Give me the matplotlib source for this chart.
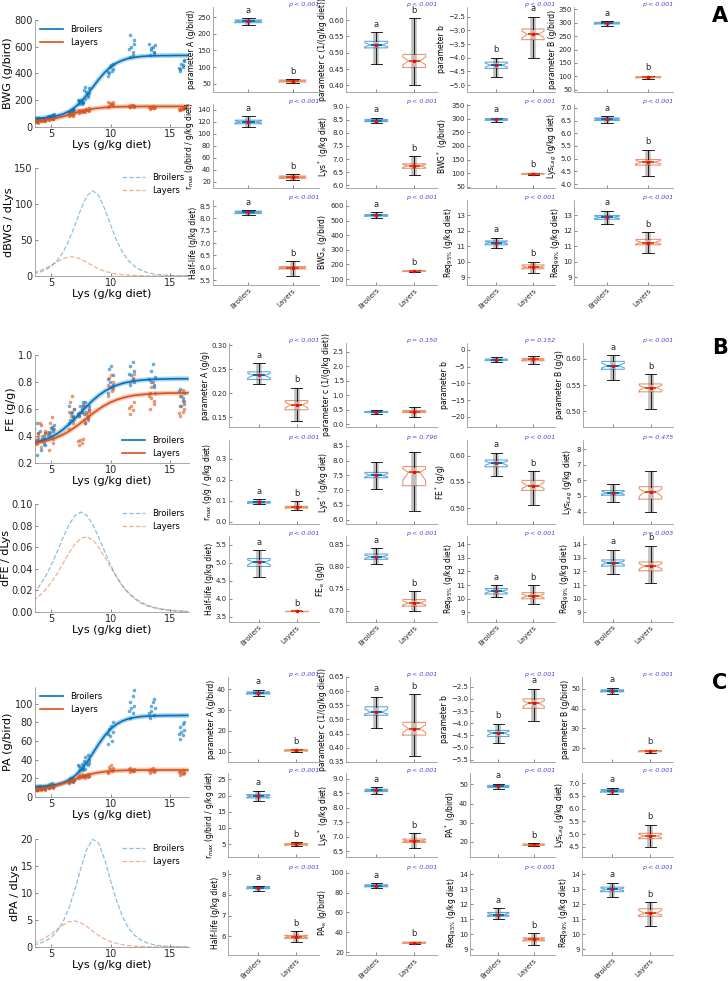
import matplotlib.pyplot as plt
import numpy as np

W, H = 728, 981
blue = '#0072BD'
orange = '#D95319'

# Lys levels of the diets and a fixed horizontal spread for the points
lys_levels = [3.7, 4.3, 5.0, 6.7, 7.5, 8.0, 10.0, 11.8, 13.5, 16.0]
jitter = [-0.2, 0.12, -0.06, 0.2, -0.14, 0.06, 0.16, -0.24]

bwg_pts_broilers = [[48, 55, 62, 70, 58, 45, 66, 52], [52, 60, 57, 66, 50, 63, 55, 59],
                    [75, 88, 82, 95, 79, 91, 70, 85], [112, 125, 118, 130, 108, 122, 135, 115],
                    [175, 190, 200, 182, 195, 170, 188, 205], [210, 240, 265, 290, 300, 225, 255, 280],
                    [385, 420, 445, 470, 400, 460, 430, 410], [520, 560, 600, 650, 690, 540, 620, 580],
                    [540, 560, 590, 610, 575, 600, 550, 620], [420, 445, 470, 490, 430, 460, 500, 440]]
bwg_pts_layers = [[32, 38, 42, 45, 35, 40, 30, 44], [45, 50, 53, 48, 55, 47, 52, 58],
                  [55, 62, 68, 72, 58, 65, 60, 70], [82, 90, 98, 105, 88, 95, 85, 100],
                  [105, 115, 125, 130, 110, 120, 118, 128], [115, 125, 135, 120, 130, 128, 140, 122],
                  [150, 165, 180, 190, 160, 175, 170, 185], [148, 155, 162, 158, 150, 165, 152, 160],
                  [138, 145, 152, 148, 142, 155, 140, 150], [125, 132, 140, 145, 130, 138, 148, 135]]
fe_pts_broilers = [[0.23, 0.26, 0.35, 0.42, 0.45, 0.50, 0.38, 0.30], [0.30, 0.34, 0.38, 0.42, 0.36, 0.40, 0.33, 0.44],
                   [0.42, 0.44, 0.46, 0.48, 0.43, 0.47, 0.45, 0.41], [0.50, 0.54, 0.57, 0.60, 0.52, 0.58, 0.55, 0.62],
                   [0.55, 0.58, 0.62, 0.65, 0.57, 0.60, 0.63, 0.56], [0.50, 0.54, 0.58, 0.62, 0.65, 0.52, 0.60, 0.56],
                   [0.72, 0.76, 0.80, 0.85, 0.90, 0.92, 0.78, 0.82], [0.78, 0.82, 0.85, 0.88, 0.92, 0.95, 0.80, 0.86],
                   [0.72, 0.76, 0.80, 0.84, 0.88, 0.93, 0.78, 0.82], [0.62, 0.66, 0.70, 0.72, 0.75, 0.68, 0.64, 0.73]]
fe_pts_layers = [[0.30, 0.34, 0.38, 0.42, 0.46, 0.36, 0.40, 0.33], [0.32, 0.36, 0.40, 0.44, 0.48, 0.38, 0.42, 0.50],
                 [0.30, 0.35, 0.40, 0.45, 0.50, 0.54, 0.38, 0.43], [0.45, 0.50, 0.55, 0.60, 0.65, 0.70, 0.52, 0.58],
                 [0.33, 0.35, 0.37, 0.38, 0.55, 0.58, 0.62, 0.36], [0.50, 0.53, 0.56, 0.59, 0.62, 0.55, 0.58, 0.52],
                 [0.70, 0.73, 0.76, 0.80, 0.83, 0.85, 0.75, 0.78], [0.56, 0.59, 0.62, 0.65, 0.80, 0.83, 0.86, 0.61],
                 [0.60, 0.64, 0.68, 0.72, 0.76, 0.80, 0.66, 0.70], [0.55, 0.58, 0.62, 0.66, 0.70, 0.74, 0.60, 0.57]]
pa_pts_broilers = [[5, 8, 10, 12, 14, 9, 11, 7], [9, 10, 11, 12, 10, 11, 9, 12],
                   [10, 11, 12, 13, 14, 15, 12, 11], [15, 16, 17, 18, 19, 20, 17, 18],
                   [28, 30, 31, 32, 33, 35, 29, 34], [30, 34, 37, 40, 43, 45, 36, 39],
                   [57, 60, 65, 70, 73, 76, 80, 68], [85, 90, 95, 98, 102, 108, 115, 92],
                   [85, 88, 92, 95, 98, 102, 105, 90], [62, 66, 70, 72, 75, 78, 80, 68]]
pa_pts_layers = [[6, 7, 8, 9, 10, 7, 8, 9], [8, 9, 10, 11, 9, 10, 8, 11],
                 [10, 11, 12, 13, 11, 12, 10, 13], [16, 17, 18, 19, 20, 17, 18, 16],
                 [20, 21, 22, 23, 24, 25, 22, 21], [20, 21, 22, 23, 24, 25, 23, 22],
                 [26, 28, 30, 31, 32, 34, 29, 27], [27, 28, 29, 30, 31, 29, 28, 30],
                 [26, 27, 28, 29, 30, 31, 28, 29], [24, 25, 26, 27, 28, 29, 26, 27]]

# fitted curves and their derivatives, read at Lys = 3.5, 4.0, ... 16.5
lys_grid = np.arange(3.5, 16.75, 0.5)
bwg_fit_broilers = [64, 66, 70, 75, 84, 97, 118, 148, 189, 240, 298, 356, 408, 449, 479, 499, 513, 521,
                    527, 530, 532, 533, 534, 534, 535, 535, 535]
bwg_fit_layers = [45, 48, 53, 59, 68, 79, 92, 105, 118, 128, 136, 142, 146, 149, 151, 152, 153, 153,
                  153.5, 153.7, 153.8, 153.9, 154, 154, 154, 154, 154]
bwg_der_broilers = [3.2, 5.2, 8.4, 13.5, 21.4, 33.2, 49.8, 70.7, 93.2, 111.4, 118.5, 111.4, 93.2, 70.7,
                    49.8, 33.2, 21.4, 13.5, 8.4, 5.2, 3.2, 1.9, 1.2, 0.7, 0.4, 0.3, 0.2]
bwg_der_layers = [4.8, 7.3, 10.7, 15.0, 19.8, 24.1, 26.6, 26.3, 23.3, 18.8, 14.1, 9.9, 6.7, 4.4, 2.8,
                  1.8, 1.1, 0.7, 0.45, 0.28, 0.18, 0.11, 0.07, 0.04, 0.03, 0.02, 0.01]
fe_fit_broilers = [0.350, 0.360, 0.374, 0.393, 0.418, 0.449, 0.487, 0.529, 0.575, 0.621, 0.664, 0.701,
                   0.732, 0.757, 0.776, 0.790, 0.800, 0.808, 0.813, 0.817, 0.819, 0.821, 0.822, 0.823,
                   0.824, 0.824, 0.824]
fe_fit_layers = [0.348, 0.354, 0.363, 0.375, 0.391, 0.411, 0.436, 0.465, 0.498, 0.533, 0.567, 0.599,
                 0.627, 0.650, 0.668, 0.682, 0.693, 0.701, 0.706, 0.710, 0.713, 0.715, 0.717, 0.718,
                 0.718, 0.719, 0.719]
fe_der_broilers = [0.0173, 0.0240, 0.0326, 0.0434, 0.0559, 0.0690, 0.0809, 0.0894, 0.0925, 0.0894,
                   0.0809, 0.0690, 0.0559, 0.0434, 0.0326, 0.0240, 0.0173, 0.0123, 0.0087, 0.0061,
                   0.0043, 0.0030, 0.0021, 0.0014, 0.0010, 0.0007, 0.0005]
fe_der_layers = [0.0108, 0.0150, 0.0205, 0.0274, 0.0357, 0.0452, 0.0547, 0.0630, 0.0684, 0.0697,
                 0.0666, 0.0599, 0.0509, 0.0413, 0.0323, 0.0244, 0.0181, 0.0132, 0.0095, 0.0067,
                 0.0048, 0.0034, 0.0024, 0.0017, 0.0012, 0.0008, 0.0006]
pa_fit_broilers = [10.9, 11.1, 11.6, 12.3, 13.4, 15.3, 18.3, 22.8, 29.1, 37.4, 47.0, 56.9, 65.8, 72.9,
                   78.1, 81.6, 83.9, 85.3, 86.2, 86.7, 87.0, 87.2, 87.3, 87.4, 87.4, 87.5, 87.5]
pa_fit_layers = [8.9, 9.4, 10.1, 11.1, 12.5, 14.4, 16.6, 19.0, 21.3, 23.4, 25.1, 26.3, 27.2, 27.9,
                 28.3, 28.5, 28.7, 28.8, 28.9, 28.9, 29.0, 29.0, 29.0, 29.0, 29.0, 29.0, 29.0]
pa_der_broilers = [0.40, 0.66, 1.09, 1.81, 2.94, 4.71, 7.28, 10.7, 14.66, 18.17, 19.95, 19.16, 16.19,
                   12.27, 8.55, 5.63, 3.56, 2.20, 1.34, 0.81, 0.49, 0.29, 0.17, 0.10, 0.06, 0.04, 0.02]
pa_der_layers = [0.78, 1.17, 1.72, 2.44, 3.27, 4.09, 4.67, 4.82, 4.48, 3.78, 2.93, 2.14, 1.49, 1.00,
                 0.66, 0.43, 0.27, 0.17, 0.11, 0.07, 0.04, 0.03, 0.02, 0.01, 0.01, 0.0, 0.0]

groups = ['Broilers', 'Layers']

# boxplot stats: (whisker low, q1, median, q3, whisker high)
bwg_labels = ['parameter A (g/bird)', 'parameter c (1/(g/kg diet))', 'parameter b', 'parameter B (g/bird)',
              'r$_{max}$ (g/bird / g/kg diet)', 'Lys$^*$ (g/kg diet)', 'BWG$^*$ (g/bird)', 'Lys$_{Lag}$ (g/kg diet)',
              'Half-life (g/kg diet)', 'BWG$_{\\infty}$ (g/bird)', 'Req$_{95\\%}$ (g/kg diet)', 'Req$_{99\\%}$ (g/kg diet)']
bwg_box_broilers = [(226, 233, 237, 241, 246), (0.465, 0.515, 0.524, 0.535, 0.563), (-4.69, -4.39, -4.27, -4.16, -4.0),
                    (289, 295, 298, 301, 305), (112, 117, 120, 123, 130), (8.36, 8.43, 8.47, 8.51, 8.58),
                    (289, 295, 298, 301, 305), (6.42, 6.5, 6.55, 6.6, 6.68), (8.13, 8.2, 8.25, 8.3, 8.33),
                    (515, 530, 535, 540, 555), (10.9, 11.1, 11.25, 11.35, 11.55), (12.45, 12.75, 12.88, 13.0, 13.3)]
bwg_box_layers = [(53, 55, 58, 61, 63), (0.40, 0.455, 0.475, 0.495, 0.605), (-4.0, -3.34, -3.15, -2.95, -2.5),
                  (92, 95, 97, 99, 102), (24, 26, 28, 30, 33), (6.38, 6.65, 6.75, 6.82, 7.1),
                  (92, 95, 97, 99, 101), (4.32, 4.75, 4.87, 4.97, 5.35), (5.68, 5.95, 6.0, 6.05, 6.27),
                  (150, 152, 155, 157, 160), (9.3, 9.55, 9.65, 9.8, 10.0), (10.55, 11.1, 11.25, 11.45, 11.9)]
bwg_letters = [('a', 'b'), ('a', 'b'), ('b', 'a'), ('a', 'b')] + [('a', 'b')] * 8
bwg_p = ['p < 0.001'] * 12
bwg_ylims = [(25, 280), (0.38, 0.64), (-5.25, -2.15), (42, 358), (10, 150), (5.9, 9.1),
             (45, 355), (3.85, 7.15), (5.3, 8.75), (60, 640), (8.5, 14), (8.5, 14)]
bwg_yticks = [[50, 100, 150, 200, 250], [0.4, 0.45, 0.5, 0.55, 0.6], [-5, -4.5, -4, -3.5, -3, -2.5],
              [50, 100, 150, 200, 250, 300, 350], [20, 40, 60, 80, 100, 120, 140], [6, 6.5, 7, 7.5, 8, 8.5, 9],
              [50, 100, 150, 200, 250, 300, 350], [4, 4.5, 5, 5.5, 6, 6.5, 7], [5.5, 6, 6.5, 7, 7.5, 8, 8.5],
              [100, 200, 300, 400, 500, 600], [9, 10, 11, 12, 13], [9, 10, 11, 12, 13]]

fe_labels = ['parameter A (g/g)', 'parameter c (1/(g/kg diet))', 'parameter b', 'parameter B (g/g)',
             'r$_{max}$ (g/g / g/kg diet)', 'Lys$^*$ (g/kg diet)', 'FE$^*$ (g/g)', 'Lys$_{Lag}$ (g/kg diet)',
             'Half-life (g/kg diet)', 'FE$_{\\infty}$ (g/g)', 'Req$_{95\\%}$ (g/kg diet)', 'Req$_{99\\%}$ (g/kg diet)']
fe_box_broilers = [(0.219, 0.229, 0.2375, 0.245, 0.263), (0.36, 0.40, 0.42, 0.44, 0.50), (-3.6, -3.2, -3.0, -2.8, -2.3),
                   (0.56, 0.58, 0.587, 0.595, 0.607), (0.083, 0.090, 0.093, 0.096, 0.108), (7.05, 7.42, 7.50, 7.60, 7.97),
                   (0.561, 0.579, 0.586, 0.592, 0.606), (4.6, 5.05, 5.2, 5.35, 5.8), (4.6, 4.9, 5.02, 5.12, 5.35),
                   (0.807, 0.817, 0.823, 0.829, 0.842), (10.1, 10.35, 10.55, 10.75, 11.0), (11.85, 12.4, 12.65, 12.85, 13.6)]
fe_box_layers = [(0.142, 0.166, 0.176, 0.185, 0.212), (0.26, 0.40, 0.43, 0.47, 0.60), (-4.3, -3.3, -2.9, -2.6, -1.8),
                 (0.505, 0.537, 0.545, 0.552, 0.571), (0.055, 0.066, 0.070, 0.074, 0.100), (6.30, 7.15, 7.60, 7.80, 8.28),
                 (0.506, 0.534, 0.543, 0.553, 0.571), (3.95, 4.8, 5.25, 5.6, 6.6), (3.65, 3.65, 3.65, 3.65, 3.65),
                 (0.700, 0.711, 0.718, 0.726, 0.745), (9.6, 10.0, 10.2, 10.45, 11.0), (11.15, 12.05, 12.4, 12.7, 13.9)]
fe_letters = [('a', 'b'), ('', ''), ('', ''), ('a', 'b'), ('a', 'b'), ('', ''), ('a', 'b'), ('', ''),
              ('a', 'b'), ('a', 'b'), ('a', 'b'), ('a', 'b')]
fe_p = ['p < 0.001', 'p = 0.150', 'p = 0.152', 'p < 0.001', 'p < 0.001', 'p = 0.796', 'p < 0.001', 'p = 0.475',
        'p < 0.001', 'p < 0.001', 'p < 0.001', 'p = 0.003']
fe_ylims = [(0.13, 0.305), (-0.1, 2.8), (-23, 2), (0.47, 0.63), (-0.01, 0.39), (5.85, 8.7),
            (0.47, 0.63), (3.2, 8.6), (3.35, 5.75), (0.675, 0.87), (8.3, 14.6), (8.3, 14.6)]
fe_yticks = [[0.15, 0.2, 0.25, 0.3], [0, 0.5, 1, 1.5, 2, 2.5], [-20, -15, -10, -5, 0], [0.5, 0.55, 0.6],
             [0, 0.1, 0.2, 0.3], [6, 6.5, 7, 7.5, 8, 8.5], [0.5, 0.55, 0.6], [4, 5, 6, 7, 8],
             [3.5, 4, 4.5, 5, 5.5], [0.7, 0.75, 0.8, 0.85], [9, 10, 11, 12, 13, 14], [9, 10, 11, 12, 13, 14]]

pa_labels = ['parameter A (g/bird)', 'parameter c (1/(g/kg diet))', 'parameter b', 'parameter B (g/bird)',
             'r$_{max}$ (g/bird / g/kg diet)', 'Lys$^*$ (g/kg diet)', 'PA$^*$ (g/bird)', 'Lys$_{Lag}$ (g/kg diet)',
             'Half-life (g/kg diet)', 'PA$_{\\infty}$ (g/bird)', 'Req$_{95\\%}$ (g/kg diet)', 'Req$_{99\\%}$ (g/kg diet)']
pa_box_broilers = [(36.8, 37.8, 38.3, 38.8, 39.8), (0.47, 0.515, 0.525, 0.545, 0.58), (-4.8, -4.55, -4.4, -4.3, -4.03),
                   (47.5, 48.5, 49.0, 49.5, 50.5), (18.2, 19.3, 19.8, 20.3, 21.5), (8.48, 8.56, 8.6, 8.64, 8.71),
                   (47.5, 48.5, 49.0, 49.5, 50.5), (6.57, 6.65, 6.7, 6.75, 6.82), (8.2, 8.3, 8.35, 8.4, 8.45),
                   (84.5, 86, 87, 88, 89.5), (11.0, 11.2, 11.3, 11.45, 11.75), (12.5, 12.85, 13.0, 13.15, 13.45)]
pa_box_layers = [(10.0, 10.3, 10.6, 10.9, 11.3), (0.37, 0.445, 0.468, 0.49, 0.59), (-3.93, -3.39, -3.18, -3.0, -2.58),
                 (17.8, 18.2, 18.5, 18.8, 19.2), (4.4, 4.7, 4.9, 5.1, 5.6), (6.62, 6.8, 6.85, 6.92, 7.12),
                 (17.8, 18.2, 18.5, 18.8, 19.2), (4.5, 4.82, 4.92, 5.03, 5.37), (5.72, 5.9, 5.98, 6.05, 6.25),
                 (28.5, 29, 29.5, 30, 30.5), (9.3, 9.55, 9.65, 9.75, 10.05), (10.55, 11.2, 11.4, 11.7, 12.15)]
pa_letters = [('a', 'b'), ('a', 'b'), ('b', 'a'), ('a', 'b')] + [('a', 'b')] * 8
pa_p = ['p < 0.001'] * 12
pa_ylims = [(5, 46), (0.35, 0.65), (-5.6, -2.1), (13, 56), (1, 27), (6.3, 9.2),
            (12, 56), (4.1, 7.4), (5.1, 9.2), (17, 103), (8.6, 14.3), (8.6, 14.3)]
pa_yticks = [[10, 20, 30, 40], [0.35, 0.4, 0.45, 0.5, 0.55, 0.6, 0.65], [-5.5, -5, -4.5, -4, -3.5, -3, -2.5],
             [20, 30, 40, 50], [5, 10, 15, 20, 25], [6.5, 7, 7.5, 8, 8.5, 9], [20, 30, 40, 50],
             [4.5, 5, 5.5, 6, 6.5, 7], [6, 7, 8, 9], [20, 40, 60, 80, 100], [9, 10, 11, 12, 13, 14],
             [9, 10, 11, 12, 13, 14]]


def rect(l, r, t, b):
    return [l / W, 1 - b / H, (r - l) / W, (b - t) / H]


def style(ax, fs):
    for s in ['top', 'right']:
        ax.spines[s].set_visible(False)
    for s in ['left', 'bottom']:
        ax.spines[s].set_color('0.6')
        ax.spines[s].set_linewidth(0.6)
    ax.tick_params(direction='in', labelsize=fs, colors='0.35', labelcolor='0.15', length=2, width=0.5, pad=1.5)


def fit_panel(fig, top, bot, pts_b, pts_l, fit_b, fit_l, ylim, yticks, ylabel, legloc):
    ax = fig.add_axes(rect(35, 189, top, bot))
    for pts, col in [(pts_b, blue), (pts_l, orange)]:
        for lv, ys in zip(lys_levels, pts):
            xs = [lv + j for j in jitter]
            ax.scatter(xs, ys, s=5, color=col, alpha=0.55, linewidths=0.3, zorder=2)
    handles = []
    for fit, col, name in [(fit_b, blue, 'Broilers'), (fit_l, orange, 'Layers')]:
        ax.plot(lys_grid, fit, color=col, lw=3.5, alpha=0.3, zorder=3)
        ln, = ax.plot(lys_grid, fit, color=col, lw=1.2, zorder=4, label=name)
        handles.append(ln)
    ax.legend(handles=handles, loc=legloc, frameon=False, fontsize=6, handlelength=2.8, borderaxespad=0.2)
    ax.set_xlim(3.63, 16.6)
    ax.set_ylim(*ylim)
    ax.set_yticks(yticks)
    ax.set_xticks([5, 10, 15])
    ax.set_ylabel(ylabel, fontsize=8, labelpad=1)
    ax.set_xlabel('Lys (g/kg diet)', fontsize=8, labelpad=1)
    style(ax, 7)


def der_panel(fig, top, bot, der_b, der_l, ylim, yticks, ylabel):
    ax = fig.add_axes(rect(35, 189, top, bot))
    ax.plot(lys_grid, der_b, '--', color=blue, alpha=0.45, lw=0.9, label='Broilers')
    ax.plot(lys_grid, der_l, '--', color=orange, alpha=0.45, lw=0.9, label='Layers')
    ax.legend(loc='upper right', frameon=False, fontsize=6, handlelength=2.8, borderaxespad=0.2)
    ax.set_xlim(3.63, 16.6)
    ax.set_ylim(*ylim)
    ax.set_yticks(yticks)
    ax.set_xticks([5, 10, 15])
    ax.set_ylabel(ylabel, fontsize=8, labelpad=0.5)
    ax.set_xlabel('Lys (g/kg diet)', fontsize=8, labelpad=1)
    style(ax, 7)


def box_stats(v):
    lo, q1, med, q3, hi = v
    return dict(whislo=lo, q1=q1, med=med, q3=q3, whishi=hi, mean=med,
                cilo=med - 0.6 * (med - q1), cihi=med + 0.6 * (q3 - med), fliers=[])


def box_grid(fig, lefts, rows, labels, br, ly, letters, pvals, ylims, yticks):
    rights = [319, 437, 555, 673]
    for k in range(12):
        r, c = divmod(k, 4)
        ax = fig.add_axes(rect(lefts[c], rights[c], rows[r][0], rows[r][1]))
        for pos, v, col in [(1, br[k], blue), (2, ly[k], orange)]:
            ax.vlines(pos, v[0], v[4], color='0.45', lw=4, alpha=0.45, zorder=1)
            ax.bxp([box_stats(v)], positions=[pos], widths=0.6, shownotches=True, showmeans=True,
                   capwidths=[0.3], manage_ticks=False,
                   boxprops=dict(color=col, alpha=0.6, lw=0.8),
                   medianprops=dict(color=col, lw=1.5),
                   whiskerprops=dict(color='k', lw=0.6),
                   capprops=dict(color='k', lw=0.6),
                   meanprops=dict(marker='.', markerfacecolor='red', markeredgecolor='red', markersize=3))
        y0, y1 = ylims[k]
        for pos, v, let in [(1, br[k], letters[k][0]), (2, ly[k], letters[k][1])]:
            ax.text(pos, v[4] + 0.04 * (y1 - y0), let, ha='center', va='bottom', fontsize=6, color='0.15')
        ax.text(1.0, 1.0, pvals[k], transform=ax.transAxes, ha='right', va='bottom',
                fontsize=4.5, color='#4444dd', style='italic')
        ax.set_xlim(0.2, 2.6)
        ax.set_ylim(y0, y1)
        ax.set_yticks(yticks[k])
        ax.set_xticks([1, 2])
        if r == 2:
            ax.set_xticklabels(groups, rotation=45, ha='right', rotation_mode='anchor')
        else:
            ax.set_xticklabels([])
        ax.set_ylabel(labels[k], fontsize=5.5, labelpad=1)
        style(ax, 5)


fig = plt.figure(figsize=(W / 100, H / 100), dpi=100)

# A: body weight gain
fit_panel(fig, 20, 127, bwg_pts_broilers, bwg_pts_layers, bwg_fit_broilers, bwg_fit_layers,
          (0, 800), [0, 200, 400, 600, 800], 'BWG (g/bird)', 'upper left')
der_panel(fig, 168, 276, bwg_der_broilers, bwg_der_layers, (0, 150), [0, 50, 100, 150], 'dBWG / dLys')
box_grid(fig, [213, 346, 467, 574], [(7, 92), (104, 188), (200, 285)], bwg_labels, bwg_box_broilers,
         bwg_box_layers, bwg_letters, bwg_p, bwg_ylims, bwg_yticks)

# B: feed efficiency
fit_panel(fig, 355, 463, fe_pts_broilers, fe_pts_layers, fe_fit_broilers, fe_fit_layers,
          (0.2, 1.0), [0.2, 0.4, 0.6, 0.8, 1], 'FE (g/g)', 'lower right')
der_panel(fig, 504, 612, fe_der_broilers, fe_der_layers, (0, 0.1), [0, 0.02, 0.04, 0.06, 0.08, 0.1], 'dFE / dLys')
box_grid(fig, [229, 346, 467, 583], [(343, 427), (440, 524), (536, 622)], fe_labels, fe_box_broilers,
         fe_box_layers, fe_letters, fe_p, fe_ylims, fe_yticks)

# C: protein accretion
fit_panel(fig, 687, 797, pa_pts_broilers, pa_pts_layers, pa_fit_broilers, pa_fit_layers,
          (0, 118), [0, 20, 40, 60, 80, 100], 'PA (g/bird)', 'upper left')
der_panel(fig, 839, 947, pa_der_broilers, pa_der_layers, (0, 20), [0, 5, 10, 15, 20], 'dPA / dLys')
box_grid(fig, [228, 346, 470, 582], [(677, 762), (773, 857), (870, 955)], pa_labels, pa_box_broilers,
         pa_box_layers, pa_letters, pa_p, pa_ylims, pa_yticks)

for letter, y in [('A', 16), ('B', 348), ('C', 683)]:
    fig.text(720 / W, 1 - y / H, letter, ha='center', va='center', fontsize=15, fontweight='bold')

fig.savefig('out.png', dpi=100)
